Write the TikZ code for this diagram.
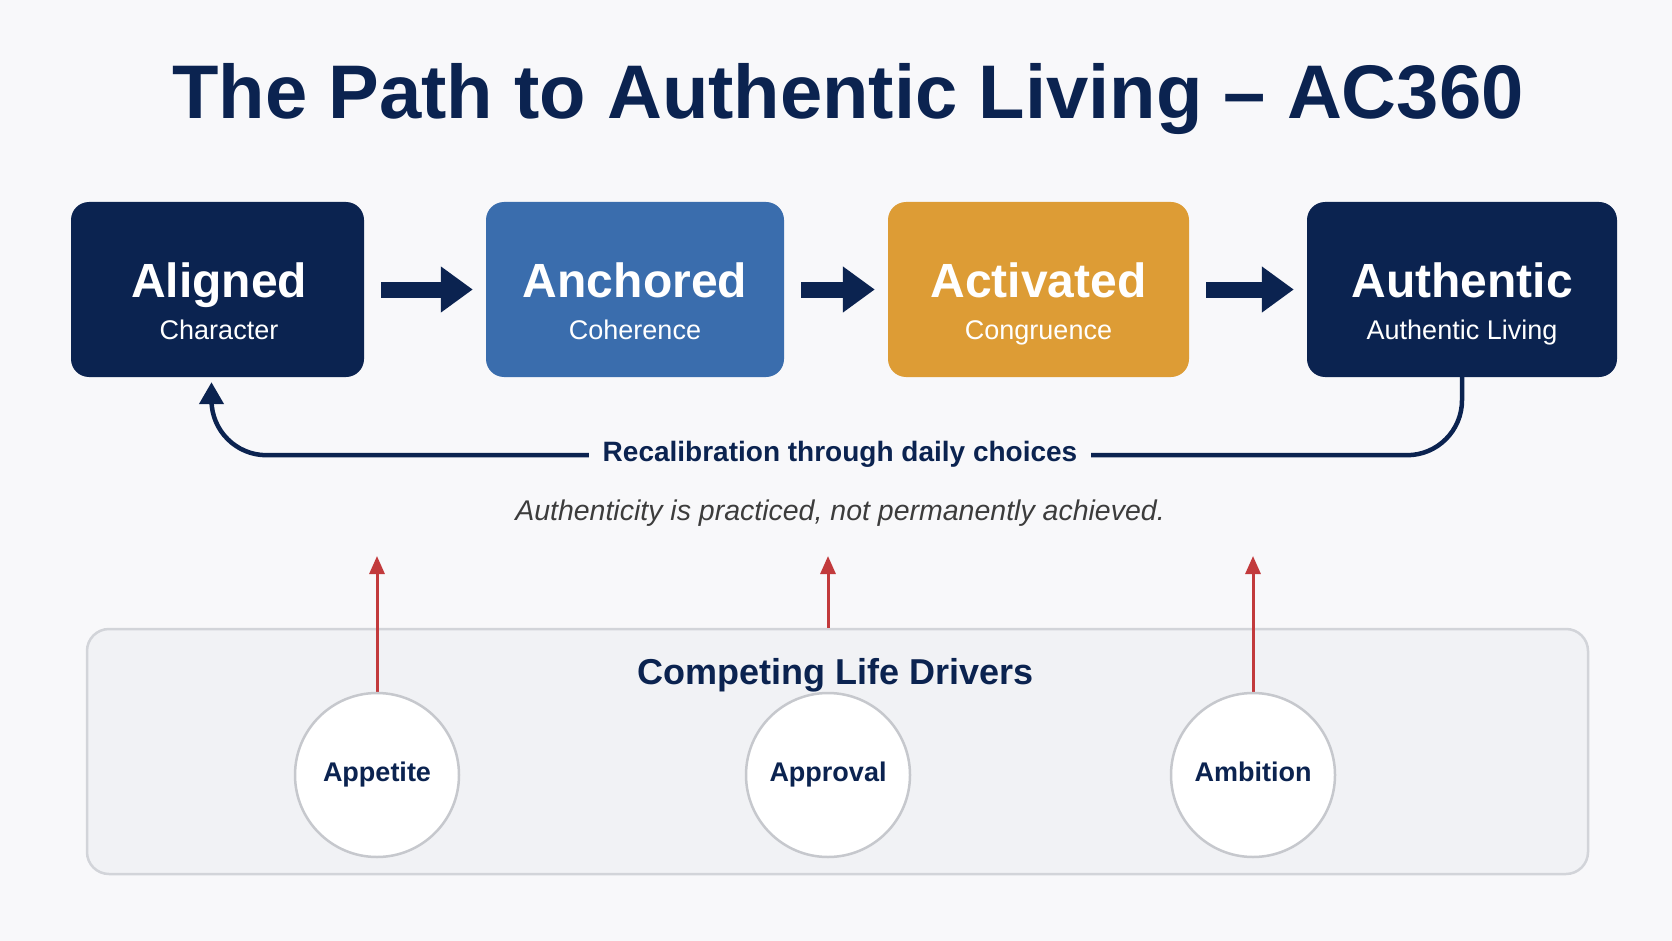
\documentclass[tikz,border=0pt]{standalone}
\usepackage{fontspec}
\setmainfont{Liberation Sans}
\usepackage{tikz}
\usetikzlibrary{arrows.meta}
\definecolor{navy}{HTML}{0B2350}
\definecolor{midblue}{HTML}{3A6DAD}
\definecolor{gold}{HTML}{DD9C35}
\definecolor{alarm}{HTML}{C23A3C}
\definecolor{paper}{HTML}{F8F8FA}
\definecolor{panelfill}{HTML}{F1F2F5}
\definecolor{panelrule}{HTML}{D2D4D9}
\definecolor{ringrule}{HTML}{C6C8CD}
\definecolor{ink}{HTML}{3C3C3C}
\pgfdeclarelayer{background}
\pgfdeclarelayer{nodelayer}
\pgfdeclarelayer{edgelayer}
\pgfsetlayers{background,edgelayer,nodelayer,main}
\tikzstyle{headline}=[inner sep=0pt, text=navy, font=\fontsize{76}{80}\selectfont\bfseries]
\tikzstyle{stage}=[shape=rectangle, rounded corners=18pt, minimum height=175pt, draw=none]
\tikzstyle{stagename}=[inner sep=0pt, text=white, font=\fontsize{48}{50}\selectfont\bfseries]
\tikzstyle{stagesub}=[inner sep=0pt, text=white, font=\fontsize{27}{30}\selectfont]
\tikzstyle{recalnote}=[fill=paper, inner xsep=14pt, inner ysep=3pt, text=navy, font=\fontsize{28}{30}\selectfont\bfseries]
\tikzstyle{motto}=[inner sep=0pt, text=ink, font=\fontsize{28.5}{30}\selectfont\itshape]
\tikzstyle{panel}=[shape=rectangle, draw=panelrule, fill=panelfill, line width=2.5pt, rounded corners=22pt, minimum width=1501pt, minimum height=245pt]
\tikzstyle{paneltitle}=[inner sep=0pt, text=navy, font=\fontsize{36}{40}\selectfont\bfseries]
\tikzset{driver/.style={shape=circle, draw=ringrule, fill=white, line width=2.5pt, minimum size=164pt, inner sep=0pt,
text=navy, font=\fontsize{27}{30}\selectfont\bfseries, text height=19pt, text depth=7pt}}
\tikzset{flow/.style={draw=navy, line width=16pt, shorten <=17pt, shorten >=13pt, -{Triangle[length=32pt, width=44pt]}}}
\tikzset{recal/.style={draw=navy, line width=4.5pt, rounded corners=55pt, shorten >=5pt, -{Triangle[length=22pt, width=24pt]}}}
\tikzset{pull/.style={draw=alarm, line width=3pt, -{Triangle[length=18pt, width=15pt]}}}

\begin{document}
\begin{tikzpicture}[x=1pt, y=-1pt]
	\useasboundingbox (0, 0) rectangle (1672, 941);
	\begin{pgfonlayer}{background}
		\fill [paper] (0, 0) rectangle (1672, 941);
		\node [style=panel] (9) at (837.5, 751.5) {};
	\end{pgfonlayer}
	\begin{pgfonlayer}{nodelayer}
		\node [style=headline, anchor=base] (4) at (848, 119) {The Path to Authentic Living – AC360};
		\node [style=stage, fill=navy, minimum width=293pt] (0) at (217.5, 289.5) {};
		\node [style=stage, fill=midblue, minimum width=298pt] (1) at (635, 289.5) {};
		\node [style=stage, fill=gold, minimum width=301pt] (2) at (1038.5, 289.5) {};
		\node [style=stage, fill=navy, minimum width=310pt] (3) at (1462, 289.5) {};
		\node [style=stagename, anchor=base] (5) at (219, 297) {Aligned};
		\node [style=stagesub, anchor=base] (6) at (219, 339) {Character};
		\node [style=stagename, anchor=base] (7) at (635, 297) {Anchored};
		\node [style=stagesub, anchor=base] (8) at (635, 339) {Coherence};
		\node [style=stagename, anchor=base] (13) at (1038.5, 297) {Activated};
		\node [style=stagesub, anchor=base] (14) at (1038.5, 339) {Congruence};
		\node [style=stagename, anchor=base] (15) at (1462, 297) {Authentic};
		\node [style=stagesub, anchor=base] (16) at (1462, 339) {Authentic Living};
		\node [style=recalnote, anchor=base] (17) at (840, 461) {Recalibration through daily choices};
		\node [style=motto, anchor=base] (18) at (840, 520) {Authenticity is practiced, not permanently achieved.};
		\node [style=paneltitle, anchor=base] (19) at (836, 684) {Competing Life Drivers};
		\node [style=driver] (10) at (377, 775) {Appetite};
		\node [style=driver] (11) at (828, 775) {Approval};
		\node [style=driver] (12) at (1253, 775) {Ambition};
		\coordinate (20) at (377, 556);
		\coordinate (21) at (828, 556);
		\coordinate (22) at (1253, 556);
	\end{pgfonlayer}
	\begin{pgfonlayer}{edgelayer}
		\draw [style=flow] (0) to (1);
		\draw [style=flow] (1) to (2);
		\draw [style=flow] (2) to (3);
		\draw [style=recal] (3.south) -- ++(0, 78) -| ([xshift=-6pt]0.south);
		\draw [style=pull] (10) to (20);
		\draw [style=pull] (11 |- 9.north) to (21);
		\draw [style=pull] (12) to (22);
	\end{pgfonlayer}
\end{tikzpicture}
\end{document}
